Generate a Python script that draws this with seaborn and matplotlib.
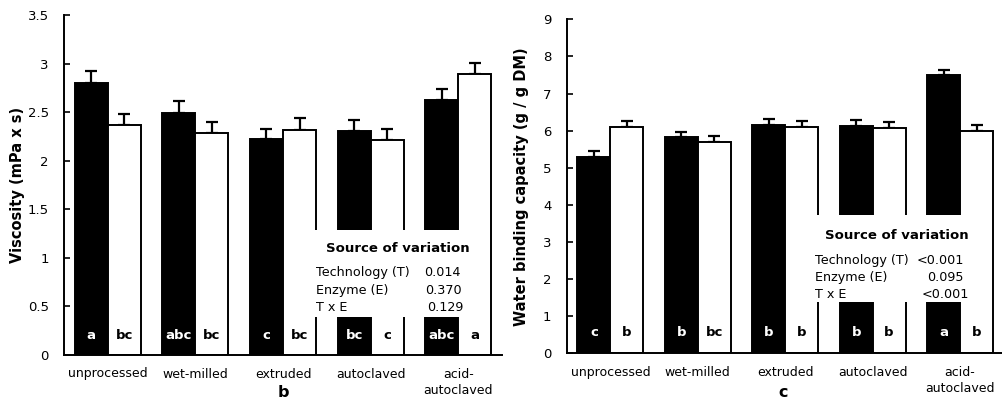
import numpy as np
import pandas as pd
import matplotlib
matplotlib.use("Agg")
import matplotlib.pyplot as plt
import seaborn as sns
from matplotlib.patches import Rectangle

categories = ["unprocessed", "wet-milled", "extruded", "autoclaved", "acid-\nautoclaved"]
series_names = ["without enzyme", "with enzyme"]

visc_black = [2.80, 2.49, 2.22, 2.31, 2.63]
visc_black_err = [0.12, 0.12, 0.11, 0.11, 0.11]
visc_white = [2.37, 2.29, 2.32, 2.21, 2.89]
visc_white_err = [0.11, 0.11, 0.12, 0.12, 0.12]

wbc_black = [5.30, 5.82, 6.15, 6.13, 7.49]
wbc_black_err = [0.15, 0.14, 0.17, 0.16, 0.15]
wbc_white = [6.10, 5.69, 6.10, 6.08, 6.00]
wbc_white_err = [0.16, 0.17, 0.15, 0.15, 0.15]

visc_letters_black = ["a", "abc", "c", "bc", "abc"]
visc_letters_white = ["bc", "bc", "bc", "c", "a"]
wbc_letters_black = ["c", "b", "b", "b", "a"]
wbc_letters_white = ["b", "bc", "b", "b", "b"]

visc_stats = [("Technology (T)", "0.014"), ("Enzyme (E)", "0.370"), ("T x E", "0.129")]
wbc_stats = [("Technology (T)", "<0.001"), ("Enzyme (E)", "0.095"), ("T x E", "<0.001")]

sns.set_theme(style="white")
plt.rcParams['font.family'] = ['DejaVu Sans']
plt.rcParams['text.color'] = 'black'
plt.rcParams['axes.labelcolor'] = 'black'
plt.rcParams['xtick.color'] = 'black'
plt.rcParams['ytick.color'] = 'black'

fig = plt.figure(figsize=(10.02, 4.01), dpi=100)
W, H = 1002, 401
ax1 = fig.add_axes([64 / W, 1 - 355 / H, 438 / W, 340 / H])
ax2 = fig.add_axes([566.7 / W, 1 - 353.3 / H, 435.3 / W, 334 / H])


def panel(ax, black, black_err, white, white_err, lb, lw, ylim, yticks, yticklabels,
          ylabel, ylabelpad, letter_y, stats, box, title_pos, rows_x, rows_y, vals,
          panel_letter, letter_pos):
    df = pd.DataFrame({
        "cat": categories * 2,
        "grp": [series_names[0]] * 5 + [series_names[1]] * 5,
        "val": black + white,
    })
    sns.barplot(data=df, x="cat", y="val", hue="grp", order=categories,
                hue_order=series_names, palette=["black", "white"], width=0.754,
                edgecolor="black", linewidth=1.4, errorbar=None, legend=False,
                saturation=1, ax=ax, zorder=2)
    patches = [p for p in ax.patches]
    errs = black_err + white_err
    vals_all = black + white
    letters = lb + lw
    for i, p in enumerate(patches[:10]):
        cx = p.get_x() + p.get_width() / 2
        ax.errorbar([cx], [vals_all[i]], yerr=[[0], [errs[i]]], fmt="none",
                    ecolor="black", elinewidth=1.6, capsize=4.5, capthick=1.6, zorder=1)
        col = "white" if i < 5 else "black"
        ax.text(cx, letter_y, letters[i], ha="center", va="center", color=col,
                fontsize=9.5, fontweight="bold", zorder=5)
    ax.set_ylim(*ylim)
    ax.set_yticks(yticks)
    ax.set_yticklabels(yticklabels, fontsize=9.5)
    ax.set_xlabel("")
    ax.set_ylabel(ylabel, fontsize=10.5, fontweight="bold", labelpad=ylabelpad)
    ax.tick_params(axis="y", direction="in", length=4, width=1.2, pad=11, left=True,
                   colors="black")
    ax.tick_params(axis="x", length=0, pad=9, labelsize=9, colors="black")
    for lab in ax.get_xticklabels():
        lab.set_linespacing(1.35)
    for s in ["top", "right"]:
        ax.spines[s].set_visible(False)
    for s in ["left", "bottom"]:
        ax.spines[s].set_linewidth(1.4)
        ax.spines[s].set_color("black")
    x0, y0, x1, y1 = box
    ax.add_patch(Rectangle((x0, y0), x1 - x0, y1 - y0, transform=ax.transAxes,
                           facecolor="white", edgecolor="none", zorder=4))
    ax.text(title_pos[0], title_pos[1], "Source of variation", transform=ax.transAxes,
            ha="center", va="center", fontsize=9.5, fontweight="bold", zorder=6)
    for (name, v), ry, vx in zip(stats, rows_y, vals):
        ax.text(rows_x, ry, name, transform=ax.transAxes, ha="left", va="center",
                fontsize=9.2, zorder=6)
        ax.text(vx, ry, v, transform=ax.transAxes, ha="right", va="center",
                fontsize=9.2, zorder=6)
    ax.text(letter_pos[0], letter_pos[1], panel_letter, transform=ax.transAxes,
            ha="center", va="center", fontsize=11.5, fontweight="bold")


panel(ax1, visc_black, visc_black_err, visc_white, visc_white_err,
      visc_letters_black, visc_letters_white, (0, 3.5),
      [0, 0.5, 1, 1.5, 2, 2.5, 3, 3.5], ["0", "0.5", "1", "1.5", "2", "2.5", "3", "3.5"],
      "Viscosity (mPa x s)", 2, 0.2, visc_stats,
      (0.568, 0.113, 0.970, 0.368), (0.763, 0.312), 0.575,
      [0.242, 0.191, 0.141], [0.905, 0.907, 0.912], "b", (0.5, -0.109))
ax1.set_xlim(-0.5, 4.5)

panel(ax2, wbc_black, wbc_black_err, wbc_white, wbc_white_err,
      wbc_letters_black, wbc_letters_white, (0, 9),
      list(range(10)), [str(i) for i in range(10)],
      "Water binding capacity (g / g DM)", 10, 0.55, wbc_stats,
      (0.566, 0.154, 0.970, 0.414), (0.758, 0.354), 0.570,
      [0.279, 0.228, 0.175], [0.912, 0.912, 0.924], "c", (0.498, -0.116))
ax2.set_xlim(-0.5, 4.48)

fig.savefig("out.png", dpi=100)
